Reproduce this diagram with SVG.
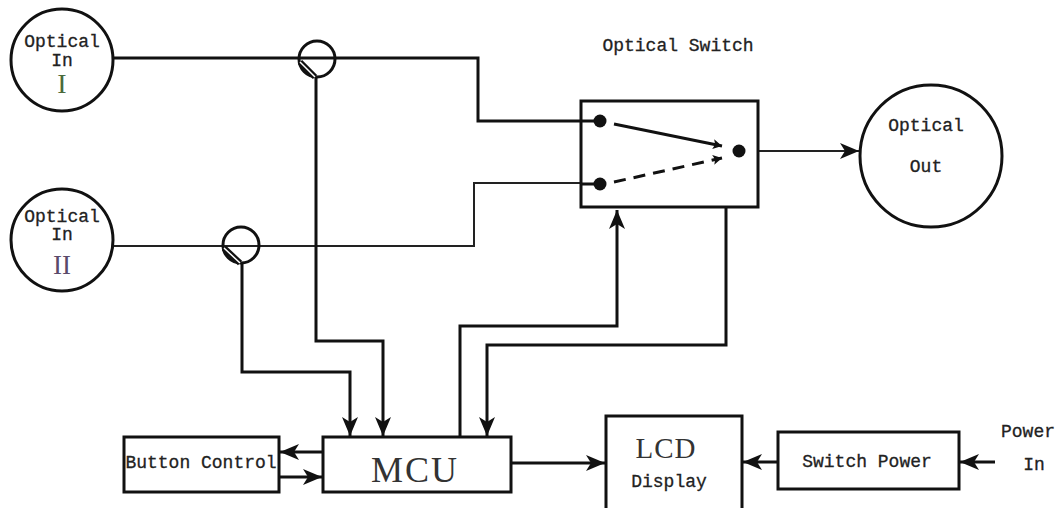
<svg xmlns="http://www.w3.org/2000/svg" width="1059" height="508" viewBox="0 0 1059 508">
<style>
.box{fill:#fff;stroke:#111;stroke-width:3}
.circ{fill:#fff;stroke:#111;stroke-width:3}
.ln{fill:none;stroke:#111;stroke-width:3}
.thin{fill:none;stroke:#222;stroke-width:2}
.t{font-family:"Liberation Mono",monospace;font-size:18px;fill:#222;text-anchor:middle;stroke:#222;stroke-width:0.3}
.big{font-family:"Liberation Serif",serif;fill:#333;text-anchor:middle}
</style>
<defs>
<marker id="ah" markerUnits="userSpaceOnUse" markerWidth="24" markerHeight="20" refX="20" refY="9" orient="auto">
<path d="M20,9 L1,1 L6,9 L1,17 Z" fill="#111"/>
</marker>
<marker id="sa" markerUnits="userSpaceOnUse" markerWidth="12" markerHeight="12" refX="10" refY="6" orient="auto">
<path d="M10,6 L1,1 L3,6 L1,11 Z" fill="#111"/>
</marker>
</defs>
<g id="connectors">
<path class="ln" d="M113,58 H478 V121 H600"/>
<path class="thin" d="M113,246 H474 V183 H600"/>
<path class="ln" d="M316,76 V341 H383 V436" marker-end="url(#ah)"/>
<path class="ln" d="M242,263 V372 H350 V436" marker-end="url(#ah)"/>
<path class="ln" d="M460,437 V326 H617 V210" marker-end="url(#ah)"/>
<path class="ln" d="M726,207 V345 H487 V436" marker-end="url(#ah)"/>
<path class="ln" d="M323,452 H280" marker-end="url(#ah)"/>
<path class="ln" d="M279,477 H322" marker-end="url(#ah)"/>
<path class="ln" d="M511,463 H605" marker-end="url(#ah)"/>
<path class="ln" d="M778,462 H743" marker-end="url(#ah)"/>
<path class="ln" d="M995,462 H960" marker-end="url(#ah)"/>
<path class="thin" d="M745,151 H859" marker-end="url(#ah)"/>
</g>
<g id="optical-in-1">
<circle class="circ" cx="62" cy="60" r="51"/>
<text class="t" x="62" y="47">Optical</text>
<text class="t" x="62" y="66">In</text>
<text class="big" x="62" y="93" font-size="28" style="fill:#4a6a3a">I</text>
</g>
<g id="optical-in-2">
<circle class="circ" cx="62" cy="240" r="51"/>
<text class="t" x="62" y="222">Optical</text>
<text class="t" x="62" y="240">In</text>
<text class="big" x="62" y="274" font-size="27" style="fill:#5a4a6a">II</text>
</g>
<g id="splitter-1">
<circle cx="317" cy="59" r="18" fill="none" stroke="#111" stroke-width="3"/>
<path d="M300,62 L315,77" stroke="#111" stroke-width="6"/>
<path d="M300,62 L315,77" stroke="#fff" stroke-width="1.5"/>
</g>
<g id="splitter-2">
<circle cx="241" cy="245" r="18" fill="none" stroke="#111" stroke-width="3"/>
<path d="M224,248 L240,263" stroke="#111" stroke-width="6"/>
<path d="M224,248 L240,263" stroke="#fff" stroke-width="1.5"/>
</g>
<g id="optical-switch">
<text class="t" x="678" y="51">Optical Switch</text>
<rect class="box" x="581" y="101" width="177" height="106" fill="none"/>
<path class="ln" d="M600,121 H581 M600,184 H581"/>
<path d="M614,124 L722,146" stroke="#111" stroke-width="3" marker-end="url(#sa)"/>
<path d="M614,182 L722,158" stroke="#111" stroke-width="3" stroke-dasharray="12,8" marker-end="url(#sa)"/>
<circle cx="600" cy="121" r="6.5" fill="#111"/>
<circle cx="600" cy="184" r="6.5" fill="#111"/>
<circle cx="739" cy="151" r="6.5" fill="#111"/>
</g>
<g id="optical-out">
<circle class="circ" cx="931" cy="156" r="71"/>
<text class="t" x="926" y="131">Optical</text>
<text class="t" x="926" y="172">Out</text>
</g>
<g id="button-control">
<rect class="box" x="124" y="437" width="155" height="55"/>
<text class="t" x="201" y="468">Button Control</text>
</g>
<g id="mcu">
<rect class="box" x="323" y="437" width="188" height="55"/>
<text class="big" x="415" y="482" font-size="36" letter-spacing="2">MCU</text>
</g>
<g id="lcd-display">
<rect class="box" x="606" y="416" width="136" height="100"/>
<text class="big" x="666" y="458" font-size="29" letter-spacing="1">LCD</text>
<text class="t" x="669" y="487">Display</text>
</g>
<g id="switch-power">
<rect class="box" x="778" y="432" width="181" height="57"/>
<text class="t" x="867" y="467">Switch Power</text>
</g>
<g id="power-in">
<text class="t" x="1028" y="437">Power</text>
<text class="t" x="1034" y="470">In</text>
</g>
</svg>
